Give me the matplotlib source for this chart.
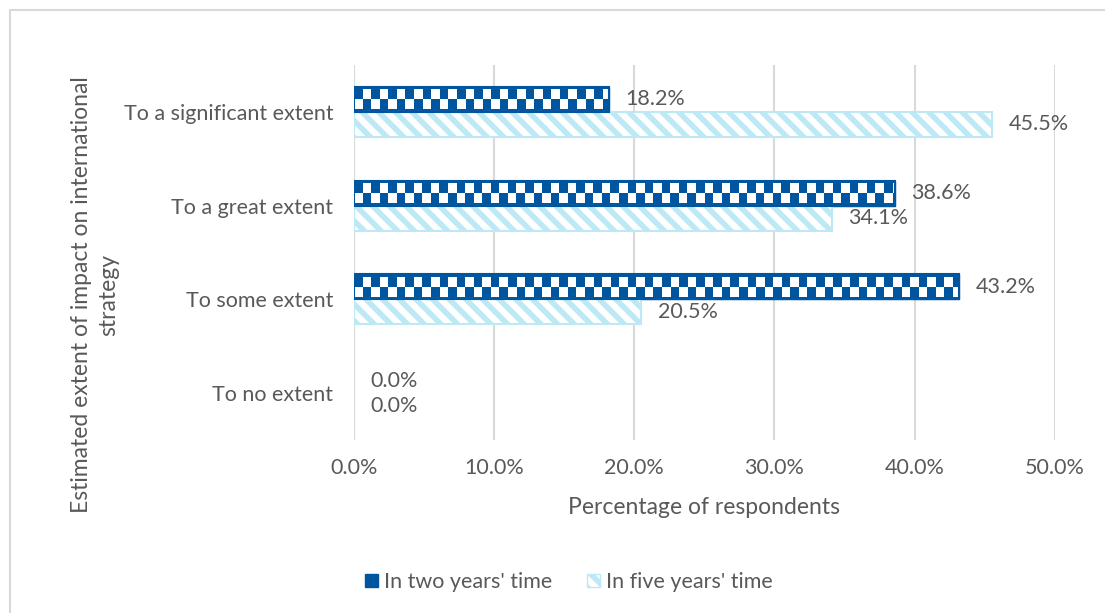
import numpy as np
import matplotlib
matplotlib.use("Agg")
import matplotlib.pyplot as plt
from matplotlib.patches import Rectangle, Patch
from matplotlib.colors import ListedColormap

categories = ["To no extent", "To some extent", "To a great extent", "To a significant extent"]
two_years = [0.0, 43.2, 38.6, 18.2]
five_years = [0.0, 20.5, 34.1, 45.5]
series_names = ["In two years' time", "In five years' time"]
xticks = [0, 10, 20, 30, 40, 50]

dark_blue = "#00559f"
light_blue = "#bde9f6"
text_grey = "#595959"
grid_grey = "#d9d9d9"
fs = 15.5

plt.rcParams['font.family'] = ['Lato', 'DejaVu Sans']
plt.rcParams['hatch.linewidth'] = 4.0
plt.rcParams['hatch.color'] = light_blue

fig = plt.figure(figsize=(11.05, 6.13), dpi=100)
ax = fig.add_axes([354 / 1105, 1 - 440 / 613, 700.7 / 1105, 375 / 613])

y = np.arange(len(categories))
h = 0.267
px = 1 / 93.75          # one pixel in y data units
cell_x = 0.61
cmap = ListedColormap(["white", dark_blue])

# two-year bars: solid blue frame with a two-row checkerboard inside
for yi, v in zip(y, two_years):
    if v <= 0:
        continue
    bar = ax.barh(yi + h / 2, v, height=h, color=dark_blue, edgecolor=dark_blue, linewidth=1.0, zorder=3)[0]
    ncol = int(np.ceil(v / cell_x))
    board = (np.add.outer(np.arange(2), np.arange(ncol)) % 2 == 0).astype(int)
    im = ax.imshow(board, cmap=cmap, extent=(0, ncol * cell_x, yi + 2.5 * px, yi + h - 3.5 * px),
                   interpolation="nearest", aspect="auto", zorder=3.5, origin="upper")
    im.set_clip_path(bar)
    ax.add_patch(Rectangle((0, yi), v, h, fill=False, edgecolor=dark_blue, linewidth=1.5, zorder=4))

# five-year bars: diagonal stripes
for yi, v in zip(y, five_years):
    if v <= 0:
        continue
    ax.barh(yi - h / 2, v, height=h, color="white", edgecolor=light_blue,
            hatch="\\\\", linewidth=1.5, zorder=3)

for yi, v in zip(y, two_years):
    ax.annotate(f"{v:.1f}%", (v, yi + h / 2), xytext=(12, 0), textcoords="offset points",
                va="center", ha="left", fontsize=fs, color=text_grey)
for yi, v in zip(y, five_years):
    ax.annotate(f"{v:.1f}%", (v, yi - h / 2), xytext=(12, 0), textcoords="offset points",
                va="center", ha="left", fontsize=fs, color=text_grey)

ax.set_xlim(0, 50)
ax.set_ylim(-0.5, len(categories) - 0.5)
ax.set_xticks(xticks)
ax.set_xticklabels([f"{t:.1f}%" for t in xticks])
ax.set_yticks(y)
ax.set_yticklabels(categories)
ax.tick_params(axis="both", length=0, labelsize=fs, labelcolor=text_grey)
ax.tick_params(axis="x", pad=13)
ax.tick_params(axis="y", pad=15)
for s in ax.spines.values():
    s.set_visible(False)
ax.grid(axis="x", color=grid_grey, linewidth=1.5, zorder=0)
ax.set_axisbelow(True)

ax.set_xlabel("Percentage of respondents", fontsize=16.5, color=text_grey, labelpad=14)
fig.text(95 / 1105, 1 - 295 / 613, "Estimated extent of impact on international\nstrategy",
         rotation=90, ha="center", va="center", multialignment="center",
         fontsize=16.5, color=text_grey, linespacing=1.4)

handles = [Patch(facecolor=dark_blue, edgecolor=dark_blue),
           Patch(facecolor="white", edgecolor=light_blue, hatch="\\\\")]
fig.legend(handles, series_names, loc="center", bbox_to_anchor=(569 / 1105, 1 - 582 / 613),
           ncol=2, frameon=False, fontsize=fs, labelcolor=text_grey,
           handlelength=0.6, handleheight=0.6, handletextpad=0.3, columnspacing=1.6)

fig.patches.append(Rectangle((9.5 / 1105, -0.1), 1.2, 1.1 - 10.5 / 613, transform=fig.transFigure,
                             fill=False, edgecolor=grid_grey, linewidth=1.5))

fig.savefig("out.png", dpi=100)
